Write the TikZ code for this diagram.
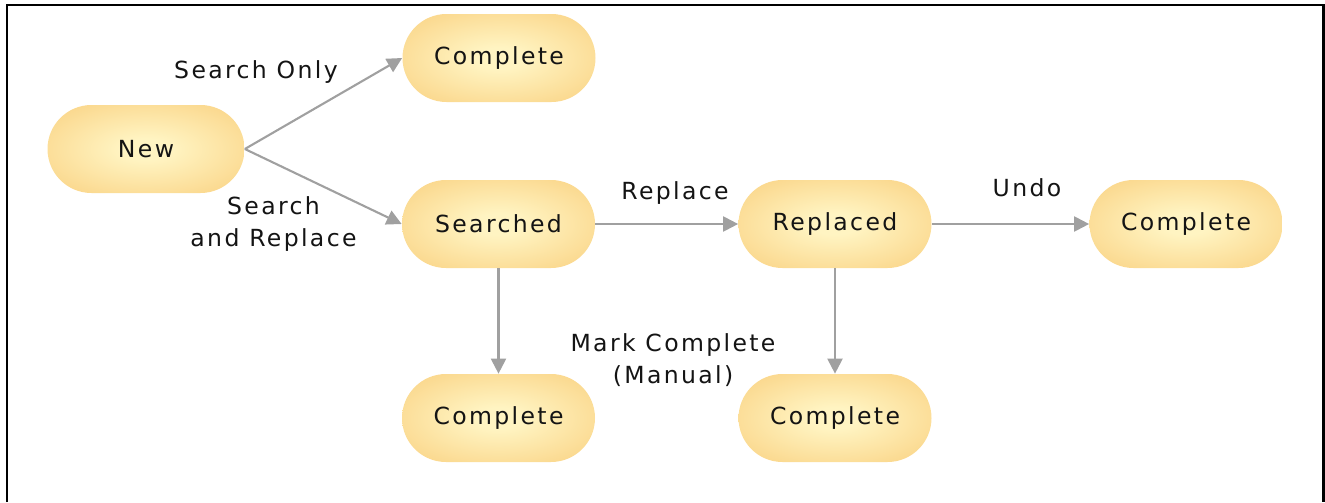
\documentclass[tikz,border=0pt]{standalone}
\usepackage{fontspec}
\newfontfamily\statefont[LetterSpace=10]{DejaVu Sans}
\usetikzlibrary{arrows.meta}
\usetikzlibrary{positioning}
\definecolor{pillin}{HTML}{FFF4C2}
\definecolor{pillout}{HTML}{F7C163}
\definecolor{wire}{HTML}{A0A0A0}
\definecolor{ink}{HTML}{141414}
\pgfdeclareradialshading{pill}{\pgfpoint{0bp}{0bp}}{color(0bp)=(pillin); color(6bp)=(pillin); color(50bp)=(pillout)}
\tikzset{state/.style={rectangle, rounded corners=0.88cm, minimum width=3.86cm, minimum height=1.76cm, text centered, shading=pill, text=ink},arrowout/.style={-{Triangle[length=0.3cm,width=0.3cm]},draw=wire,line width=1.2pt},frame/.style={line width=1.7pt}}

\begin{document}
\begin{tikzpicture} [align=center,inner sep=0pt,font=\statefont\fontsize{13.4}{18}\selectfont,text=ink]
\useasboundingbox (0,0) rectangle (26.5,-10.04);
\draw[frame] (0.14,-10.04) -- (0.14,-0.1) -- (26.46,-0.1) -- (26.46,-10.04);

% states
\node (new) at (2.92,-2.98)[state,minimum width=3.94cm]{New};
\node (done1) at (9.98,-1.16)[state]{Complete};
\node (searched) at (9.97,-4.48)[state]{Searched};
\node (replaced) at (16.7,-4.48)[state]{Replaced};
\node (done2) at (23.72,-4.48)[state]{Complete};
\node (done3) at (9.97,-8.36)[state]{Complete};
\node (done4) at (16.7,-8.36)[state]{Complete};

% transitions
\draw[arrowout] (new.east) -- (done1.west);
\draw[arrowout] (new.east) -- (searched.west);
\draw[arrowout] (searched) -- (replaced);
\draw[arrowout] (replaced) -- (done2);
\draw[arrowout] (searched) -- (done3);
\draw[arrowout] (replaced) -- (done4);

\node (lonly) at (5.12,-1.44) {Search Only};
\node (lsr) at (5.47,-4.48) {Search\\and Replace};
\node (lrep) at (13.5,-3.86) {Replace};
\node (lundo) at (20.54,-3.76) {Undo};
\node (lmark) at (13.46,-7.2) {Mark Complete\\(Manual)};
\end{tikzpicture}
\end{document}
